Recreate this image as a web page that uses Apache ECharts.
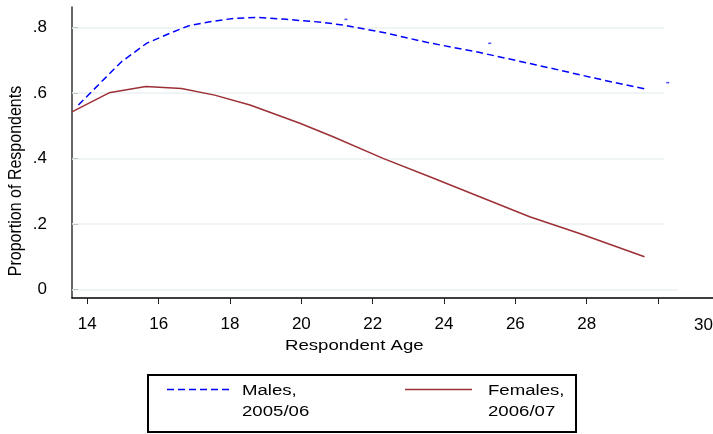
<!DOCTYPE html>
<html>
<head>
<meta charset="utf-8">
<script src="https://cdn.jsdelivr.net/npm/echarts@6/dist/echarts.min.js"></script>
<style>
html,body{margin:0;padding:0;background:#fff;}
#c{width:713px;height:434px;}
</style>
</head>
<body>
<div id="c"></div>
<script>
// ---- data ----
const maleAges   = [13.75, 14.40, 14.96, 15.66, 16.32, 16.83, 17.44, 18.09, 18.75, 19.49, 20.60, 21.27, 22.39, 23.51, 24.91, 26.59, 28.46, 29.62];
const maleVals   = [0.563, 0.634, 0.695, 0.751, 0.782, 0.804, 0.817, 0.827, 0.830, 0.825, 0.815, 0.805, 0.782, 0.754, 0.725, 0.685, 0.639, 0.612];
const femaleAges = [13.57, 14.61, 15.64, 16.64, 17.57, 18.56, 19.96, 20.89, 22.29, 23.60, 25.00, 26.40, 27.80, 29.62];
const femaleVals = [0.542, 0.600, 0.619, 0.613, 0.593, 0.563, 0.507, 0.466, 0.400, 0.344, 0.283, 0.222, 0.171, 0.100];
const strayAges  = [21.25, 25.28, 30.27];
const strayVals  = [0.824, 0.751, 0.631];
const xTicks      = [14, 16, 18, 20, 22, 24, 26, 28, 30];
const xTickLabels = [14, 16, 18, 20, 22, 24, 26, 28];
const yTicks      = [0, 0.2, 0.4, 0.6, 0.8];
const yTickLabels = ['0', '.2', '.4', '.6', '.8'];
const seriesNames = ['Males,\n2005/06', 'Females,\n2006/07'];

const FONT = '"Liberation Sans", Arial, sans-serif';
const X_MIN = 13.571, X_MAX = 31.54, Y_MIN = -0.0259, Y_MAX = 0.8618;

const chart = echarts.init(document.getElementById('c'), null, {renderer: 'canvas'});

const gridLines = yTicks.map(v => [
  {coord: [X_MIN, v]},
  {coord: [v === 0 ? 30.55 : 30.18, v]}
]);

chart.setOption({
  animation: false,
  backgroundColor: '#fff',
  grid: {left: 72, right: 0, top: 7, bottom: 136, containLabel: false},
  xAxis: {
    type: 'value', min: X_MIN, max: X_MAX,
    axisLine: {show: true, onZero: false, lineStyle: {color: '#000', width: 1.5}},
    axisTick: {show: true, customValues: xTicks, length: 6, lineStyle: {color: '#222', width: 1}},
    axisLabel: {show: true, customValues: xTickLabels, margin: 18, fontSize: 17, color: '#000', fontFamily: FONT},
    splitLine: {show: false}
  },
  yAxis: {
    type: 'value', min: Y_MIN, max: Y_MAX,
    axisLine: {show: true, onZero: false, lineStyle: {color: '#333', width: 1.5}},
    axisTick: {show: true, inside: true, customValues: yTicks, length: 6, lineStyle: {color: '#444', width: 1}},
    axisLabel: {show: true, customValues: yTicks, margin: 25, fontSize: 17, color: '#000', fontFamily: FONT,
      formatter: v => { const i = yTicks.findIndex(t => Math.abs(t - v) < 1e-6); return i >= 0 ? yTickLabels[i] : ''; }},
    splitLine: {show: false}
  },
  series: [
    {
      name: seriesNames[0], type: 'line', data: maleAges.map((a, i) => [a, maleVals[i]]),
      showSymbol: false, symbol: 'none', smooth: false, z: 3,
      lineStyle: {color: '#0000ff', width: 1.5, type: [7, 4]},
      markLine: {
        silent: true, symbol: 'none', label: {show: false}, z: 1,
        lineStyle: {color: '#eaf1f1', width: 1.5, type: 'solid'},
        data: gridLines
      }
    },
    {
      name: seriesNames[1], type: 'line', data: femaleAges.map((a, i) => [a, femaleVals[i]]),
      showSymbol: false, symbol: 'none', smooth: false, z: 3,
      lineStyle: {color: '#9c3036', width: 1.5}
    },
    {
      name: 'stray', type: 'scatter', data: strayAges.map((a, i) => [a, strayVals[i]]),
      symbol: 'rect', symbolSize: [3, 1.5], itemStyle: {color: '#2020ff'}, z: 4
    }
  ],
  graphic: [
    // "30" label (offset in the reference)
    {type: 'text', x: 694, y: 317, style: {text: '30', font: '17px ' + FONT, fill: '#000', verticalAlign: 'top'}},
    // x axis title
    {type: 'text', x: 285, y: 338, scaleX: 1.2, style: {text: 'Respondent Age', font: '15.5px ' + FONT, fill: '#000', verticalAlign: 'top'}},
    // y axis title
    {type: 'text', x: 7, y: 181, rotation: Math.PI / 2, scaleY: 1.1,
      style: {text: 'Proportion of Respondents', font: '16px ' + FONT, fill: '#000', align: 'center', verticalAlign: 'top'}},
    // legend box
    {type: 'rect', shape: {x: 148, y: 375, width: 428, height: 57}, style: {fill: 'none', stroke: '#000', lineWidth: 2}},
    {type: 'line', shape: {x1: 167, y1: 389.5, x2: 232, y2: 389.5}, style: {stroke: '#0000ff', lineWidth: 1.5, lineDash: [7, 4]}},
    {type: 'text', x: 242, y: 380, scaleX: 1.2, style: {text: seriesNames[0], font: '15.5px ' + FONT, fill: '#000', lineHeight: 21, verticalAlign: 'top'}},
    {type: 'line', shape: {x1: 405, y1: 389.5, x2: 472, y2: 389.5}, style: {stroke: '#9c3036', lineWidth: 1.5}},
    {type: 'text', x: 488, y: 380, scaleX: 1.2, style: {text: seriesNames[1], font: '15.5px ' + FONT, fill: '#000', lineHeight: 21, verticalAlign: 'top'}}
  ]
});
</script>
</body>
</html>
